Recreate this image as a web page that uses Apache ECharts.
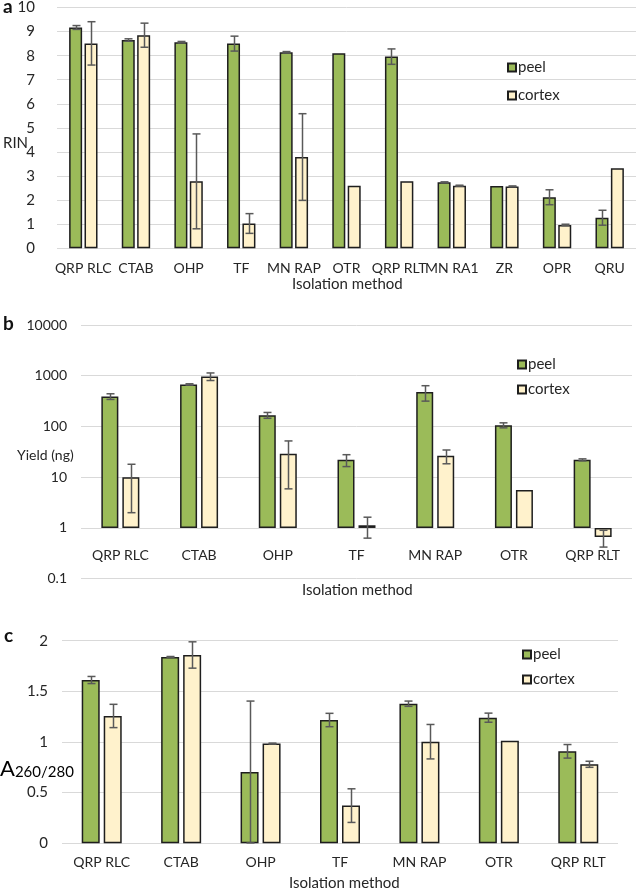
<!DOCTYPE html>
<html>
<head>
<meta charset="utf-8">
<script src="https://cdn.jsdelivr.net/npm/echarts@6/dist/echarts.min.js"></script>
<style>
html, body { margin: 0; padding: 0; background: #fff; }
#main { width: 638px; height: 891px; }
</style>
</head>
<body>
<div id="main"></div>
<script>
// panel a - RIN
var catsA = ['QRP RLC', 'CTAB', 'OHP', 'TF', 'MN RAP', 'OTR', 'QRP RLT', 'MN RA1', 'ZR', 'OPR', 'QRU'];
var peelA = [9.17, 8.65, 8.56, 8.50, 8.14, 8.10, 7.96, 2.74, 2.59, 2.12, 1.27];
var peelErrA = [0.08, 0.05, 0.03, 0.31, 0.03, 0, 0.32, 0.02, 0, 0.31, 0.31];
var cortexA = [8.51, 8.85, 2.78, 1.03, 3.79, 2.60, 2.78, 2.60, 2.57, 0.97, 3.32];
var cortexErrA = [0.9, 0.5, 1.97, 0.41, 1.8, 0, 0, 0.02, 0.02, 0.03, 0];

// panel b - yield (ng)
var catsB = ['QRP RLC', 'CTAB', 'OHP', 'TF', 'MN RAP', 'OTR', 'QRP RLT'];
var peelB = [391, 674, 167, 22, 476, 106, 22];
var peelErrB = [50, 20, 22, 5.8, 160, 12, 1];
var cortexB = [10, 970, 28.9, 1.13, 26.4, 5.6, 0.66];
var cortexErrB = [8, 165, 23, 0.5, 8, 0, 0.24];

// panel c - A260/280
var catsC = ['QRP RLC', 'CTAB', 'OHP', 'TF', 'MN RAP', 'OTR', 'QRP RLT'];
var peelC = [1.612, 1.839, 0.704, 1.217, 1.378, 1.240, 0.908];
var peelErrC = [0.035, 0.005, 0.70, 0.066, 0.026, 0.045, 0.067];
var cortexC = [1.257, 1.859, 0.984, 0.372, 1.003, 1.013, 0.78];
var cortexErrC = [0.115, 0.13, 0.005, 0.166, 0.17, 0, 0.03];

var GREEN = '#9bbb59';
var CREAM = '#fff2cc';
var EDGE = '#1e1e1e';
var FONT = 'Lato';

var chart = echarts.init(document.getElementById('main'));

// bar sizes per panel (px) and gap between the two bars (px)
var panels = [
  { bw: 13, gap: 2.4 },
  { bw: 17, gap: 4 },
  { bw: 18, gap: 4 }
];

function errSeries(idx, vals, errs, side) {
  var p = panels[idx];
  var data = vals.map(function (v, i) { return [i, v, errs[i]]; });
  return {
    type: 'custom',
    xAxisIndex: idx,
    yAxisIndex: idx,
    silent: true,
    z: 10,
    encode: { x: 0, y: 1 },
    data: data,
    renderItem: function (params, api) {
      var i = api.value(0), v = api.value(1), e = api.value(2);
      if (!e) return null;
      var off = side * (p.bw + p.gap) / 2;
      var top = api.coord([i, v + e]);
      var bot = api.coord([i, v - e]);
      var x = Math.round(top[0] + off) + 0.5;
      var cap = 4;
      var st = { stroke: '#595959', lineWidth: 1.5, fill: null };
      return {
        type: 'group',
        children: [
          { type: 'line', shape: { x1: x, y1: top[1], x2: x, y2: bot[1] }, style: st },
          { type: 'line', shape: { x1: x - cap, y1: top[1], x2: x + cap, y2: top[1] }, style: st },
          { type: 'line', shape: { x1: x - cap, y1: bot[1], x2: x + cap, y2: bot[1] }, style: st }
        ]
      };
    }
  };
}

function barSeries(idx, name, vals, color) {
  var p = panels[idx];
  return {
    name: name,
    type: 'bar',
    xAxisIndex: idx,
    yAxisIndex: idx,
    barWidth: p.bw,
    barGap: (p.gap / p.bw * 100) + '%',
    data: vals,
    itemStyle: { color: color, borderColor: EDGE, borderWidth: 1.5 }
  };
}

function xAx(idx, cats, margin) {
  return {
    type: 'category',
    gridIndex: idx,
    data: cats,
    axisLine: { show: false },
    axisTick: { show: false },
    axisLabel: { interval: 0, margin: margin, color: '#262626', fontFamily: FONT, fontSize: 14 }
  };
}

function legendAt(left, top, gap) {
  return {
    left: left, top: top, orient: 'vertical',
    itemWidth: 8, itemHeight: 8, itemGap: gap,
    icon: 'rect',
    data: ['peel', 'cortex'],
    textStyle: { fontFamily: FONT, fontSize: 15, color: '#262626', padding: [0, 0, 0, -3] }
  };
}

var splitStyle = { lineStyle: { color: '#d9d9d9', width: 1 } };
var yLabel = { color: '#262626', fontFamily: FONT, fontSize: 15 };

var option = {
  backgroundColor: '#fff',
  animation: false,
  textStyle: { fontFamily: FONT },
  grid: [
    { left: 57, width: 579, top: 5, height: 243.3 },
    { left: 81, width: 551, top: 325, height: 253.7 },
    { left: 62, width: 556, top: 640.7, height: 202.6 }
  ],
  legend: [legendAt(502, 55, 13), legendAt(512, 352, 10), legendAt(517, 642, 10)],
  xAxis: [xAx(0, catsA, 13), xAx(1, catsB, -30), xAx(2, catsC, 12)],
  yAxis: [
    { type: 'value', gridIndex: 0, min: 0, max: 10, interval: 1,
      splitLine: splitStyle, axisLabel: Object.assign({ margin: 22 }, yLabel) },
    { type: 'log', gridIndex: 1, logBase: 10, min: 0.1, max: 10000,
      splitLine: splitStyle,
      axisLabel: { margin: 14, fontSize: 14, color: '#262626', fontFamily: FONT,
        formatter: function (v) { return String(+v.toPrecision(6)); } } },
    { type: 'value', gridIndex: 2, min: 0, max: 2, interval: 0.5,
      splitLine: splitStyle, axisLabel: Object.assign({ margin: 14 }, yLabel) }
  ],
  graphic: [
    { type: 'text', left: 3, top: -3, style: { text: 'a', font: 'bold 19px ' + FONT, fill: '#111' } },
    { type: 'text', left: 3, top: 314, style: { text: 'b', font: 'bold 19px ' + FONT, fill: '#111' } },
    { type: 'text', left: 4, top: 626, style: { text: 'c', font: 'bold 19px ' + FONT, fill: '#111' } },
    { type: 'text', left: 3, top: 136, style: { text: 'RIN', font: '15px ' + FONT, fill: '#262626' } },
    { type: 'text', left: 17, top: 448, style: { text: 'Yield (ng)', font: '14px ' + FONT, fill: '#262626' } },
    { type: 'text', left: 0, top: 758, style: {
        text: '{a|A}{s|260/280}',
        rich: {
          a: { fontFamily: FONT, fontSize: 22, color: '#262626', verticalAlign: 'bottom' },
          s: { fontFamily: FONT, fontSize: 15, color: '#262626', verticalAlign: 'bottom' }
        }
      } },
    { type: 'text', left: 292, top: 277, style: { text: 'Isolation method', font: '15px ' + FONT, fill: '#262626' } },
    { type: 'text', left: 302, top: 583, style: { text: 'Isolation method', font: '15px ' + FONT, fill: '#262626' } },
    { type: 'text', left: 289, top: 876, style: { text: 'Isolation method', font: '15px ' + FONT, fill: '#262626' } }
  ],
  series: [
    barSeries(0, 'peel', peelA, GREEN),
    barSeries(0, 'cortex', cortexA, CREAM),
    barSeries(1, 'peel', peelB, GREEN),
    barSeries(1, 'cortex', cortexB, CREAM),
    barSeries(2, 'peel', peelC, GREEN),
    barSeries(2, 'cortex', cortexC, CREAM),
    errSeries(0, peelA, peelErrA, -1),
    errSeries(0, cortexA, cortexErrA, 1),
    errSeries(1, peelB, peelErrB, -1),
    errSeries(1, cortexB, cortexErrB, 1),
    errSeries(2, peelC, peelErrC, -1),
    errSeries(2, cortexC, cortexErrC, 1)
  ]
};

chart.setOption(option);
</script>
</body>
</html>
